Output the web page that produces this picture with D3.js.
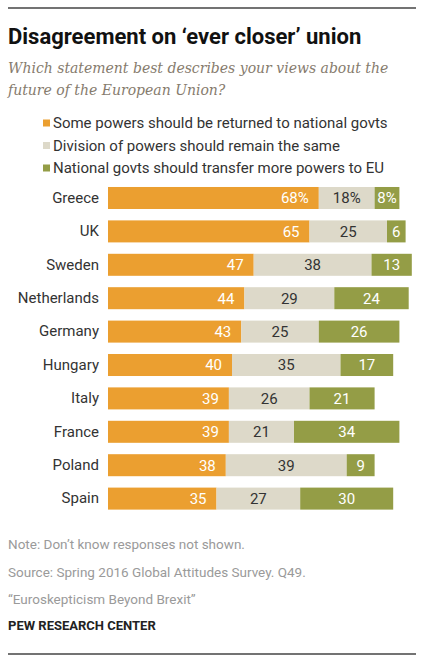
<!DOCTYPE html>
<html>
<head>
<meta charset="utf-8">
<script src="https://cdn.jsdelivr.net/npm/d3@7"></script>
<style>
  body { margin: 0; background: #fff; }
  text { font-family: Roboto, "Liberation Sans", sans-serif; }
</style>
</head>
<body>
<div id="chart"></div>
<script>
// data
const countries = ['Greece', 'UK', 'Sweden', 'Netherlands', 'Germany', 'Hungary', 'Italy', 'France', 'Poland', 'Spain'];
const returnPowers = [68, 65, 47, 44, 43, 40, 39, 39, 38, 35];
const remainSame = [18, 25, 38, 29, 25, 35, 26, 21, 39, 27];
const transferEU = [8, 6, 13, 24, 26, 17, 21, 34, 9, 30];
const seriesNames = [
  'Some powers should be returned to national govts',
  'Division of powers should remain the same',
  'National govts should transfer more powers to EU'
];
const colors = ['#EB9F30', '#DDD9C9', '#949D46'];
const labelColors = ['#fff', '#333', '#fff'];

const W = 434, H = 669;

const svg = d3.select('#chart')
  .append('svg')
  .attr('width', W)
  .attr('height', H);

// rules top and bottom
svg.append('line').attr('x1', 8).attr('x2', 416).attr('y1', 8).attr('y2', 8)
  .attr('stroke', '#444').attr('stroke-width', 1.5);
svg.append('line').attr('x1', 8).attr('x2', 416).attr('y1', 654).attr('y2', 654)
  .attr('stroke', '#444').attr('stroke-width', 1.5);

// title
svg.append('text')
  .attr('x', 8).attr('y', 44)
  .attr('font-size', '22px')
  .attr('font-weight', 'bold')
  .attr('fill', '#111')
  .text('Disagreement on \u2018ever closer\u2019 union');

const sub = svg.append('text')
  .attr('x', 8).attr('y', 73)
  .style('font-family', '"DejaVu Serif", Georgia, serif')
  .attr('font-style', 'italic')
  .attr('font-size', '14px')
  .attr('fill', '#867b6d');
sub.append('tspan').attr('x', 8).text('Which statement best describes your views about the');
sub.append('tspan').attr('x', 8).attr('dy', 22).text('future of the European Union?');

// legend
const legend = svg.append('g');
seriesNames.forEach((name, i) => {
  const y = 123 + i * 22.5;
  legend.append('rect')
    .attr('x', 43).attr('y', y - 3.5)
    .attr('width', 7).attr('height', 7)
    .attr('fill', colors[i]);
  legend.append('text')
    .attr('x', 53).attr('y', y)
    .attr('dy', '0.35em')
    .attr('font-size', '15px')
    .attr('fill', '#333')
    .text(name);
});

// scales
const x = d3.scaleLinear()
  .domain([0, 100])
  .range([108, 418]);

const y = d3.scaleBand()
  .domain(countries)
  .range([175.6, 521])
  .paddingInner(0.341)
  .paddingOuter(0.341);

// stacked data
const rows = countries.map((c, i) => ({
  country: c,
  vals: [returnPowers[i], remainSame[i], transferEU[i]]
}));

const stack = d3.stack().keys([0, 1, 2]).value((d, k) => d.vals[k]);
const stacked = stack(rows);

const bars = svg.append('g');
stacked.forEach((layer, k) => {
  bars.selectAll('.bar' + k)
    .data(layer)
    .enter().append('rect')
    .attr('x', d => x(d[0]))
    .attr('y', d => y(d.data.country))
    .attr('width', d => x(d[1]) - x(d[0]))
    .attr('height', y.bandwidth())
    .attr('fill', colors[k]);

  bars.selectAll('.lab' + k)
    .data(layer)
    .enter().append('text')
    .attr('x', d => k === 0 ? x(d[1]) - 10 : (x(d[0]) + x(d[1])) / 2)
    .attr('y', d => y(d.data.country) + y.bandwidth() / 2)
    .attr('dy', '0.36em')
    .attr('text-anchor', k === 0 ? 'end' : 'middle')
    .attr('font-size', '15px')
    .attr('fill', labelColors[k])
    .text((d, i) => d.data.vals[k] + (i === 0 ? '%' : ''));
});

// country axis
const yAxis = svg.append('g')
  .attr('transform', 'translate(99,0)')
  .call(d3.axisLeft(y).tickSize(0).tickPadding(0));
yAxis.select('.domain').remove();
yAxis.selectAll('text')
  .attr('font-size', '15px')
  .attr('fill', '#333')
  .style('font-family', 'Roboto, "Liberation Sans", sans-serif');

// footer
const notes = [
  'Note: Don\u2019t know responses not shown.',
  'Source: Spring 2016 Global Attitudes Survey. Q49.',
  '\u201cEuroskepticism Beyond Brexit\u201d'
];
const noteY = [549, 577, 604];
notes.forEach((t, i) => {
  svg.append('text')
    .attr('x', 8).attr('y', noteY[i])
    .attr('font-size', '13.5px')
    .attr('fill', '#9a9a9a')
    .text(t);
});
svg.append('text')
  .attr('x', 8).attr('y', 630)
  .attr('font-size', '13px')
  .attr('font-weight', 'bold')
  .attr('fill', '#222')
  .text('PEW RESEARCH CENTER');
</script>
</body>
</html>
